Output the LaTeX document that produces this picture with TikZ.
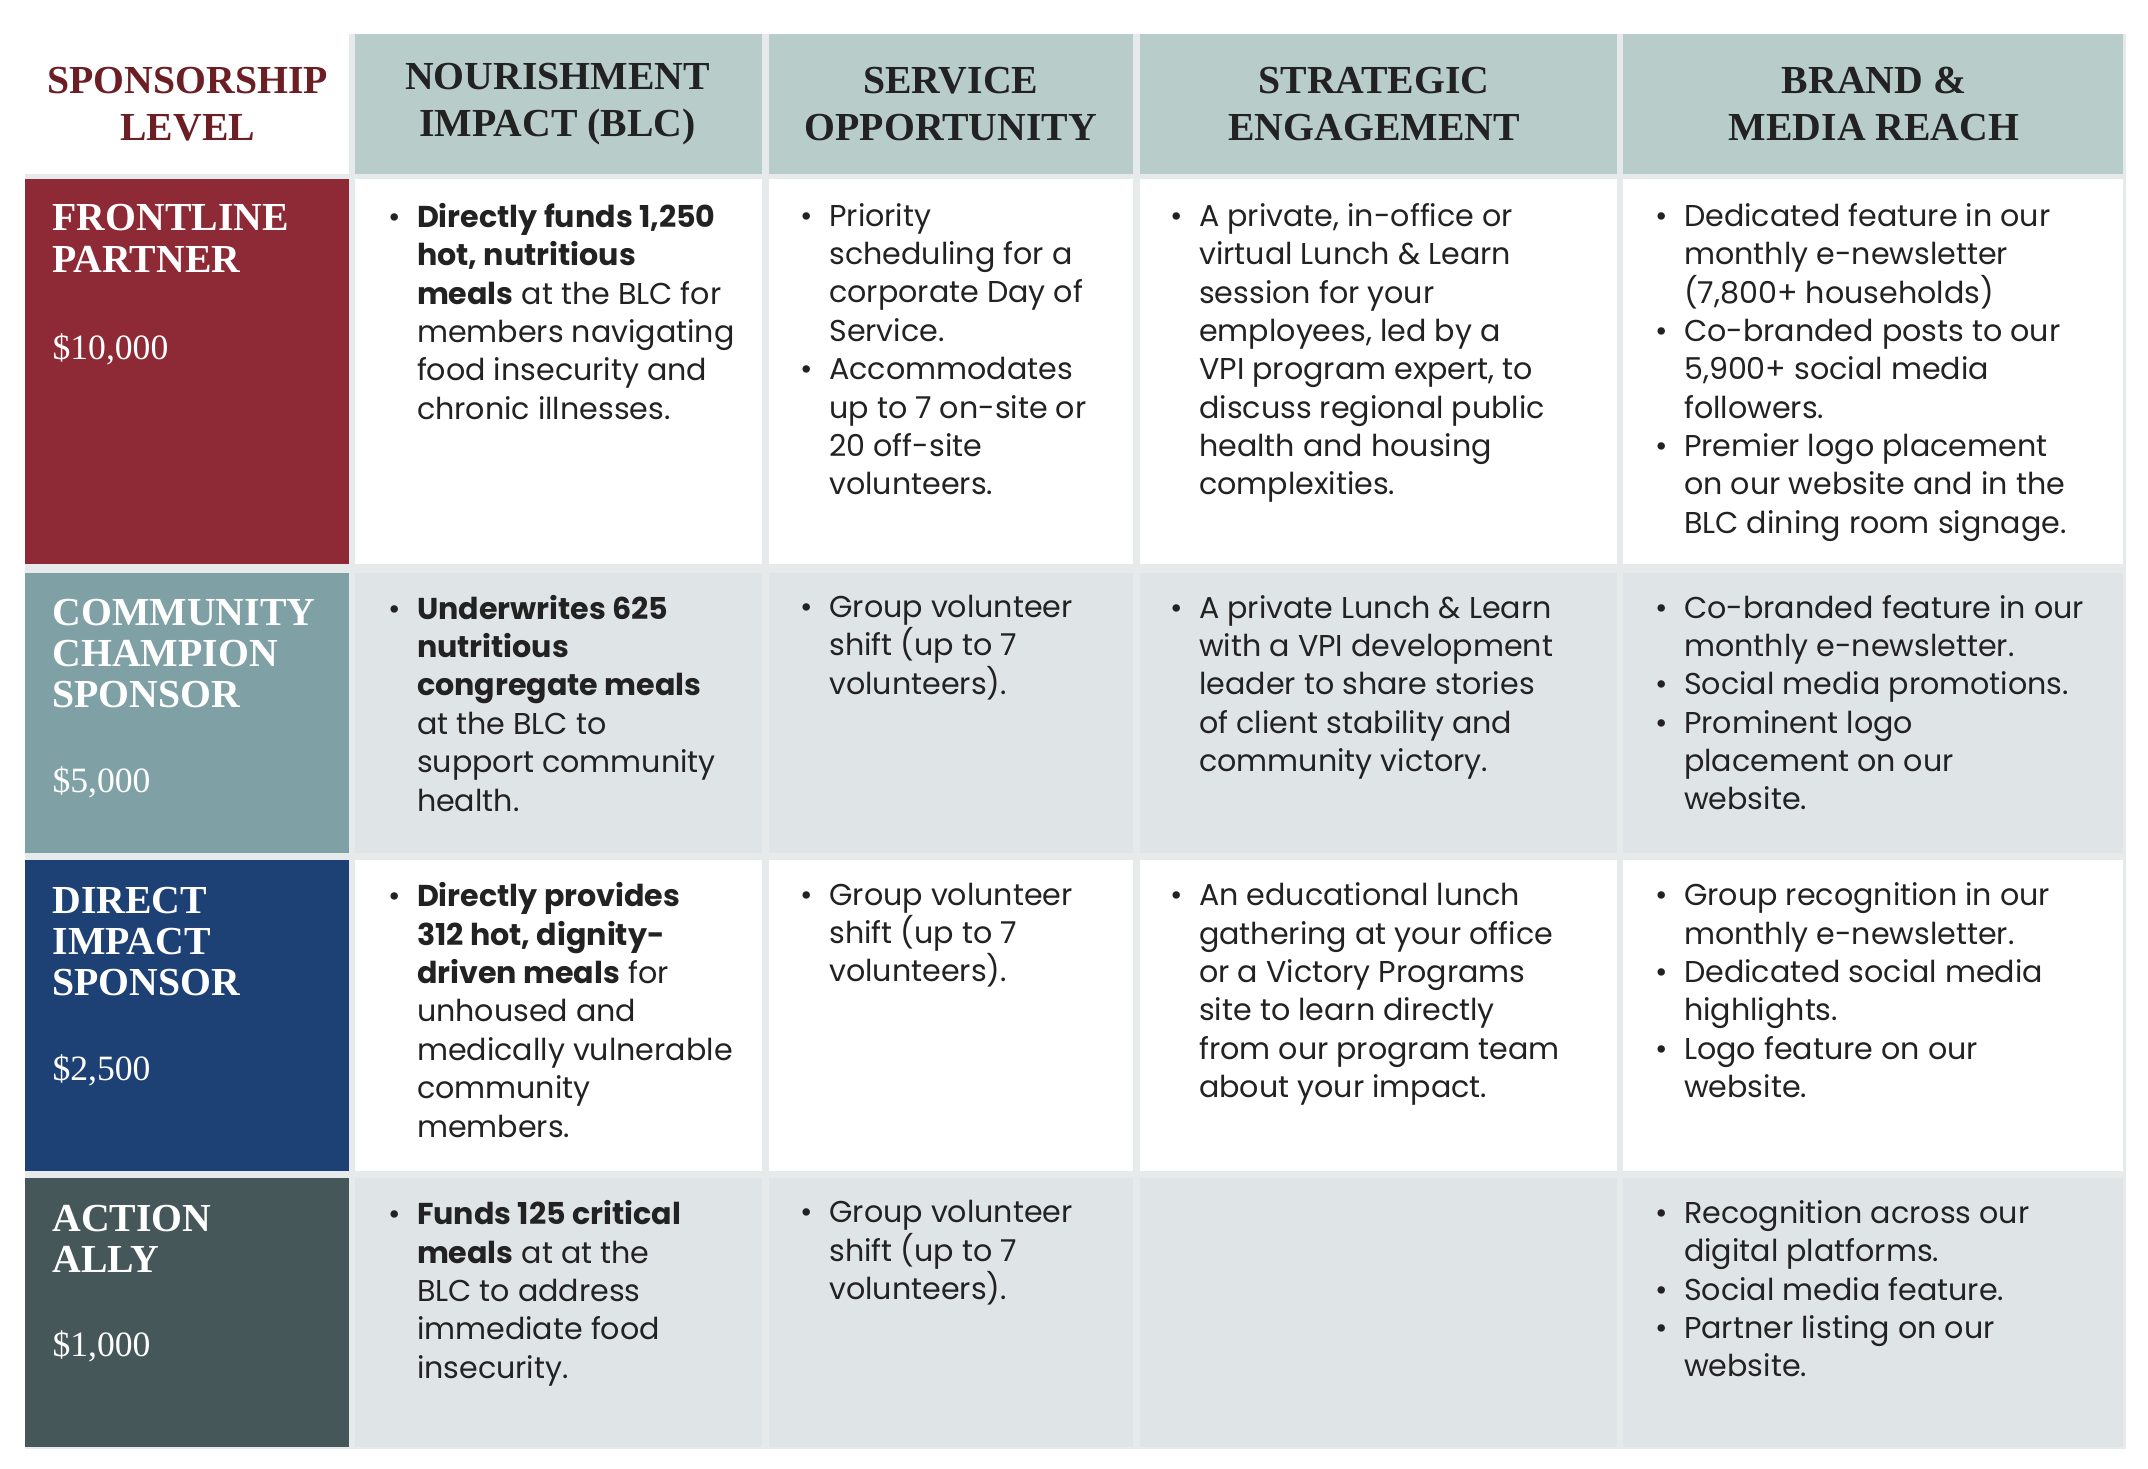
\documentclass[tikz,border=0pt]{standalone}
\usepackage{fontspec}
\setmainfont{Liberation Serif}
\newfontfamily\bodyf{Poppins}
\usepackage{enumitem}
\setlist[itemize]{leftmargin=11.5pt,labelsep=6pt,itemsep=0pt,topsep=0pt,parsep=0pt,partopsep=0pt,label=\textbullet}
\definecolor{hdr}{HTML}{B8CCCA}
\definecolor{grayrow}{HTML}{DFE4E6}
\definecolor{gap}{HTML}{E6EAEA}
\definecolor{cred}{HTML}{8E2A35}
\definecolor{cteal}{HTML}{7FA1A6}
\definecolor{cnavy}{HTML}{1D4175}
\definecolor{cslate}{HTML}{455759}
\definecolor{txt}{HTML}{222222}
\definecolor{dred}{HTML}{6B1E24}
\begin{document}
\begin{tikzpicture}[x=0.5pt,y=-0.5pt,
 hd/.style={font=\fontsize{14.5}{17}\selectfont\bfseries,text=txt,align=center,inner sep=0},
 lv/.style={font=\fontsize{14.5}{15}\selectfont\bfseries,text=white,align=left,inner sep=0,anchor=north west},
 pr/.style={font=\fontsize{13}{15}\selectfont,text=white,inner sep=0,anchor=west},
 bd/.style={font=\bodyf\fontsize{11}{14}\selectfont,text=txt,inner sep=0,anchor=north west,align=left}]
\useasboundingbox (0,0) rectangle (1568,1072);
\fill[white] (0,0) rectangle (1568,1072);
\fill[gap] (255,25) rectangle (1552,1058);
\fill[gap] (18,127) rectangle (259,1058);
% header
\foreach \a/\b in {259/556,561/827,832/1180,1185/1550}{\fill[hdr] (\a,25) rectangle (\b,127);}
% body cells
\foreach \y/\z/\c in {131/412/white,418/623/grayrow,628/855/white,860/1056/grayrow}{
 \foreach \a/\b in {259/556,561/827,832/1180,1185/1550}{\fill[\c] (\a,\y) rectangle (\b,\z);}}
\fill[cred] (18,131) rectangle (255,412);
\fill[cteal] (18,418) rectangle (255,623);
\fill[cnavy] (18,628) rectangle (255,855);
\fill[cslate] (18,860) rectangle (255,1056);
% header text
\node[hd,text=dred] (h0) at (137,76) {SPONSORSHIP\\LEVEL};
\node[hd] (h1) at (407,76) {NOURISHMENT\\IMPACT (BLC)};
\node[hd] (h2) at (694,76) {SERVICE\\OPPORTUNITY};
\node[hd] (h3) at (1003,76) {STRATEGIC\\ENGAGEMENT};
\node[hd] (h4) at (1368,76) {BRAND \&\\MEDIA REACH};
% levels
\node[lv] (l1) at (38,149) {FRONTLINE\\PARTNER};
\node[pr] (p1) at (38,255) {\$10,000};
\node[lv] (l2) at (38,437) {COMMUNITY\\CHAMPION\\SPONSOR};
\node[pr] (p2) at (38,571) {\$5,000};
\node[lv] (l3) at (38,647) {DIRECT\\IMPACT\\SPONSOR};
\node[pr] (p3) at (38,781) {\$2,500};
\node[lv] (l4) at (38,879) {ACTION\\ALLY};
\node[pr] (p4) at (38,983) {\$1,000};
% row 1
\node[bd] (c11) at (281,148) {\begin{minipage}{260pt}\begin{itemize}\item \textbf{Directly funds 1,250}\\\textbf{hot, nutritious}\\\textbf{meals} at the BLC for\\members navigating\\food insecurity and\\chronic illnesses.\end{itemize}\end{minipage}};
\node[bd] (c12) at (582,148) {\begin{minipage}{200pt}\begin{itemize}\item Priority\\scheduling for a\\corporate Day of\\Service.\item Accommodates\\up to 7 on-site or\\20 off-site\\volunteers.\end{itemize}\end{minipage}};
\node[bd] (c13) at (852,148) {\begin{minipage}{200pt}\begin{itemize}\item A private, in-office or\\virtual Lunch \& Learn\\session for your\\employees, led by a\\VPI program expert, to\\discuss regional public\\health and housing\\complexities.\end{itemize}\end{minipage}};
\node[bd] (c14) at (1206,148) {\begin{minipage}{200pt}\begin{itemize}\item Dedicated feature in our\\monthly e-newsletter\\(7,800+ households)\item Co-branded posts to our\\5,900+ social media\\followers.\item Premier logo placement\\on our website and in the\\BLC dining room signage.\end{itemize}\end{minipage}};
% row 2
\node[bd] (c21) at (281,434) {\begin{minipage}{200pt}\begin{itemize}\item \textbf{Underwrites 625}\\\textbf{nutritious}\\\textbf{congregate meals}\\at the BLC to\\support community\\health.\end{itemize}\end{minipage}};
\node[bd] (c22) at (582,434) {\begin{minipage}{200pt}\begin{itemize}\item Group volunteer\\shift (up to 7\\volunteers).\end{itemize}\end{minipage}};
\node[bd] (c23) at (852,434) {\begin{minipage}{200pt}\begin{itemize}\item A private Lunch \& Learn\\with a VPI development\\leader to share stories\\of client stability and\\community victory.\end{itemize}\end{minipage}};
\node[bd] (c24) at (1206,434) {\begin{minipage}{200pt}\begin{itemize}\item Co-branded feature in our\\monthly e-newsletter.\item Social media promotions.\item Prominent logo\\placement on our\\website.\end{itemize}\end{minipage}};
% row 3
\node[bd] (c31) at (281,644) {\begin{minipage}{200pt}\begin{itemize}\item \textbf{Directly provides}\\\textbf{312 hot, dignity-}\\\textbf{driven meals} for\\unhoused and\\medically vulnerable\\community\\members.\end{itemize}\end{minipage}};
\node[bd] (c32) at (582,644) {\begin{minipage}{200pt}\begin{itemize}\item Group volunteer\\shift (up to 7\\volunteers).\end{itemize}\end{minipage}};
\node[bd] (c33) at (852,644) {\begin{minipage}{200pt}\begin{itemize}\item An educational lunch\\gathering at your office\\or a Victory Programs\\site to learn directly\\from our program team\\about your impact.\end{itemize}\end{minipage}};
\node[bd] (c34) at (1206,644) {\begin{minipage}{200pt}\begin{itemize}\item Group recognition in our\\monthly e-newsletter.\item Dedicated social media\\highlights.\item Logo feature on our\\website.\end{itemize}\end{minipage}};
% row 4
\node[bd] (c41) at (281,876) {\begin{minipage}{200pt}\begin{itemize}\item \textbf{Funds 125 critical}\\\textbf{meals} at at the\\BLC to address\\immediate food\\insecurity.\end{itemize}\end{minipage}};
\node[bd] (c42) at (582,876) {\begin{minipage}{200pt}\begin{itemize}\item Group volunteer\\shift (up to 7\\volunteers).\end{itemize}\end{minipage}};
\node[bd] (c44) at (1206,876) {\begin{minipage}{200pt}\begin{itemize}\item Recognition across our\\digital platforms.\item Social media feature.\item Partner listing on our\\website.\end{itemize}\end{minipage}};
\end{tikzpicture}
\end{document}
